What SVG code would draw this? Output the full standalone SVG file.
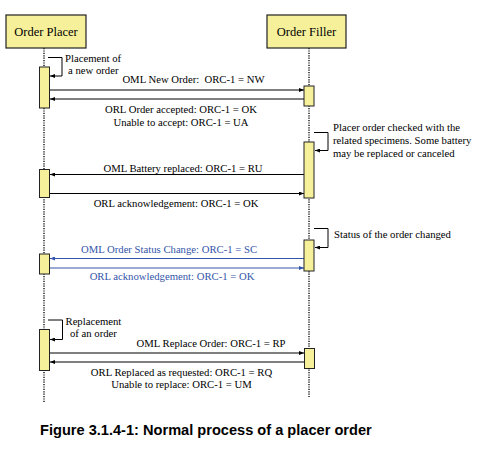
<svg xmlns="http://www.w3.org/2000/svg" width="481" height="453" viewBox="0 0 481 453">
<style>
.hdr{fill:#F6F09B;stroke:#222;stroke-width:1.2}
.act{fill:#F6F09B;stroke:#222;stroke-width:1}
.life{stroke:#222;stroke-width:1.5;stroke-dasharray:1.2 1.2;fill:none}
.msg{stroke:#000;stroke-width:1;fill:none}
.blue{stroke:#3355AA;stroke-width:1;fill:none}
.loop{stroke:#000;stroke-width:1;fill:none}
text{font-family:"Liberation Serif","Times New Roman",serif;font-size:10.7px;fill:#000}
.ht{font-size:12.5px}
.bt{fill:#3355AA}
.cap{font-family:"Liberation Sans",Arial,sans-serif;font-weight:bold;font-size:14.6px}
</style>
<defs>
<marker id="ah" markerWidth="5" markerHeight="4" refX="5" refY="2" orient="auto" markerUnits="userSpaceOnUse"><path d="M0,0 L5,2 L0,4 Z" fill="#000"/></marker>
<marker id="ahb" markerWidth="5" markerHeight="4" refX="5" refY="2" orient="auto" markerUnits="userSpaceOnUse"><path d="M0,0 L5,2 L0,4 Z" fill="#3355AA"/></marker>
</defs>
<rect width="481" height="453" fill="#fff"/>
<g id="placer">
<line class="life" x1="44" y1="48" x2="44" y2="403"/>
<rect class="hdr" x="6" y="15" width="80" height="33"/>
<text class="ht" x="46" y="36" text-anchor="middle">Order Placer</text>
</g>
<g id="filler">
<line class="life" x1="309" y1="48" x2="309" y2="397"/>
<rect class="hdr" x="267" y="15" width="79" height="33"/>
<text class="ht" x="306.5" y="36" text-anchor="middle">Order Filler</text>
</g>
<g id="connectors">
<path class="loop" d="M48,57.5 H62 V76 H50" marker-end="url(#ah)"/>
<line class="msg" x1="50" y1="90" x2="304" y2="90" marker-end="url(#ah)"/>
<line class="msg" x1="304" y1="99" x2="50" y2="99" marker-end="url(#ah)"/>
<path class="loop" d="M314,132.5 H328 V150.5 H315" marker-end="url(#ah)"/>
<line class="msg" x1="304" y1="174.5" x2="50" y2="174.5" marker-end="url(#ah)"/>
<line class="msg" x1="50" y1="193.5" x2="304" y2="193.5" marker-end="url(#ah)"/>
<path class="loop" d="M314,228.5 H328 V247.5 H315" marker-end="url(#ah)"/>
<line class="blue" x1="304" y1="258.5" x2="50" y2="258.5" marker-end="url(#ahb)"/>
<line class="blue" x1="50" y1="268" x2="304" y2="268" marker-end="url(#ahb)"/>
<path class="loop" d="M48,320 H62.5 V339.5 H50" marker-end="url(#ah)"/>
<line class="msg" x1="50" y1="353" x2="304" y2="353" marker-end="url(#ah)"/>
<line class="msg" x1="304" y1="362" x2="50" y2="362" marker-end="url(#ah)"/>
</g>
<g id="activations">
<rect class="act" x="39.5" y="67" width="10" height="41"/>
<rect class="act" x="304" y="86" width="10" height="20"/>
<rect class="act" x="304" y="142" width="10" height="56"/>
<rect class="act" x="39.5" y="169.5" width="10" height="28"/>
<rect class="act" x="304" y="240" width="10" height="31"/>
<rect class="act" x="39.5" y="254" width="10" height="20"/>
<rect class="act" x="39.5" y="329.5" width="10" height="41"/>
<rect class="act" x="304.5" y="348.5" width="10" height="20"/>
</g>
<g id="labels">
<text x="65" y="62">Placement of</text>
<text x="68" y="74">a new order</text>
<text x="193.5" y="83" text-anchor="middle" xml:space="preserve">OML New Order:  ORC-1 = NW</text>
<text x="181" y="113" text-anchor="middle">ORL Order accepted: ORC-1 = OK</text>
<text x="181" y="125.5" text-anchor="middle">Unable to accept: ORC-1 = UA</text>
<text x="333" y="131">Placer order checked with the</text>
<text x="333" y="144">related specimens. Some battery</text>
<text x="333" y="156.5">may be replaced or canceled</text>
<text x="183" y="171.5" text-anchor="middle">OML Battery replaced: ORC-1 = RU</text>
<text x="176" y="206.5" text-anchor="middle">ORL acknowledgement: ORC-1 = OK</text>
<text x="334" y="238">Status of the order changed</text>
<text class="bt" x="169" y="252.5" text-anchor="middle">OML Order Status Change: ORC-1 = SC</text>
<text class="bt" x="172" y="280" text-anchor="middle">ORL acknowledgement: ORC-1 = OK</text>
<text x="65.5" y="325">Replacement</text>
<text x="70" y="336.5">of an order</text>
<text x="211" y="346.5" text-anchor="middle">OML Replace Order: ORC-1 = RP</text>
<text x="181.5" y="375.5" text-anchor="middle">ORL Replaced as requested: ORC-1 = RQ</text>
<text x="181.5" y="388" text-anchor="middle">Unable to replace: ORC-1 = UM</text>
</g>
<text class="cap" x="40" y="435">Figure 3.1.4-1: Normal process of a placer order</text>
</svg>
